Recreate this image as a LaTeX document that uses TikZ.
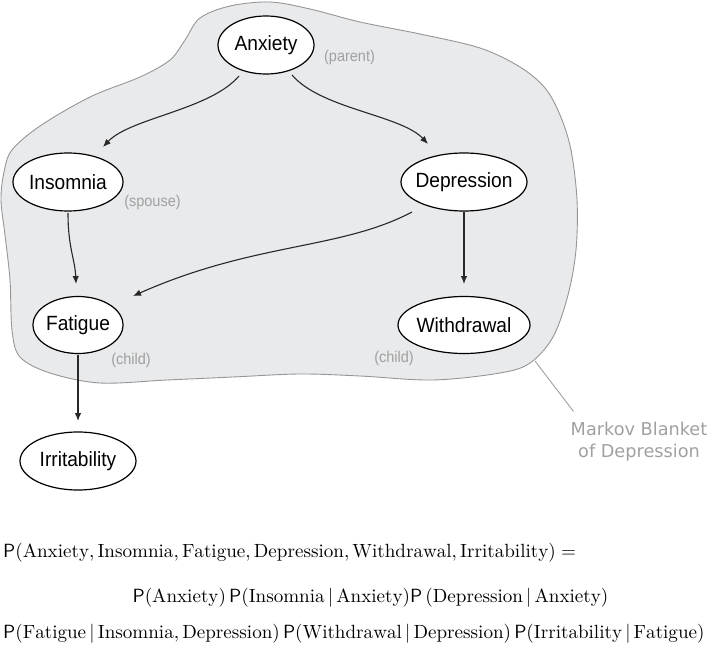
\documentclass[tikz,border=0pt]{standalone}
\usepackage{graphicx}
\usepackage{fontspec}
\newfontfamily\nodefont[FakeStretch=0.93]{Liberation Sans}
\newfontfamily\rolefont[FakeStretch=0.93]{Liberation Sans}
\newfontfamily\mbfont{DejaVu Sans}
\usetikzlibrary{shapes.geometric,arrows.meta,calc}
\definecolor{blobfill}{RGB}{233,234,236}
\definecolor{blobline}{RGB}{150,150,150}
\definecolor{lbl}{RGB}{160,160,160}
\definecolor{arrcol}{RGB}{40,40,40}
\newcommand\nbox[1]{\makebox[0pt]{#1}}
\newcommand\given{\,|\,}
\newcommand\fscale[1]{\scalebox{1.916}{#1}}
\begin{document}
\begin{tikzpicture}[x=1bp,y=-1bp,
  var/.style={ellipse, draw=black, fill=white, line width=1.2bp, inner sep=0pt, outer sep=0pt,
    font=\nodefont\fontsize{20.6bp}{22bp}\selectfont},
  role/.style={text=lbl, inner sep=0pt, font=\rolefont\fontsize{15.6bp}{17bp}\selectfont},
  edge/.style={draw=arrcol, line width=1.1bp, -{Latex[length=8bp,width=6.5bp]}},
  formula/.style={inner sep=0pt, font=\fontsize{10pt}{12pt}\selectfont},
  mbl/.style={text=lbl, inner sep=0pt, align=center, font=\mbfont\fontsize{17.7bp}{22bp}\selectfont}]
\useasboundingbox (0,0) rectangle (709,652);

% Markov blanket region
\path[fill=blobfill, draw=blobline, line width=0.9bp]
  plot[smooth cycle, tension=0.55] coordinates {
  (1,200) (4,172) (12,150) (40,126) (90,97) (140,77) (170,60) (185,40) (200,18)
  (230,6) (270,2) (310,9) (360,22) (420,34) (480,48) (520,67) (545,88) (560,115)
  (571,150) (577,200) (576,250) (568,295) (553,337) (530,363) (500,373) (433,380)
  (360,376) (300,374) (233,377) (167,380) (100,383) (50,373) (20,357) (12,330)
  (10,280) (5,235)};

% variables
\node[var, minimum width=96bp, minimum height=58bp] (anx) at (266,45) {\nbox{Anxiety}};
\node[var, minimum width=110bp, minimum height=58bp] (ins) at (68,182) {\nbox{Insomnia}};
\node[var, minimum width=126bp, minimum height=58bp] (dep) at (464,182) {\nbox{Depression}};
\node[var, minimum width=90bp, minimum height=57bp] (fat) at (78,325) {\nbox{Fatigue}};
\node[var, minimum width=132bp, minimum height=57bp] (wd) at (464,325) {\nbox{Withdrawal}};
\node[var, minimum width=116bp, minimum height=58bp] (irr) at (78,461) {\nbox{Irritability}};

% role labels
\node[role] (lpar) at (349.5,57) {(parent)};
\node[role] (lspo) at (152.5,202) {(spouse)};
\node[role] (lch1) at (131,360) {(child)};
\node[role] (lch2) at (394,358) {(child)};

% edges
\draw[edge] ($(anx)+(-27,31)$) .. controls +(-29,34) and +(27,-29) .. ($(ins)+(35,-35)$);
\draw[edge] ($(anx)+(26,30)$) .. controls +(29,34) and +(-27,-29) .. ($(dep)+(-36,-38)$);
\draw[edge] ($(ins)+(0,31)$) .. controls +(0,35) and +(-1,-25) .. ($(fat)+(-2,-41)$);
\draw[edge] ($(dep)+(-52,30)$) .. controls +(-72,38) and +(122,-54) .. ($(fat)+(55,-29)$);
\draw[edge] ($(dep)+(0,30)$) -- ($(wd)+(0,-41)$);
\draw[edge] ($(fat)+(0,30)$) -- ($(irr)+(0,-40)$);

% Markov blanket label
\node[mbl, anchor=north] (mb) at (639,421.5) {Markov Blanket\\of Depression};
\coordinate (mbs) at (535,361);
\draw[draw=lbl, line width=0.9bp] (mbs) -- ($(mb.north west)+(3,-10)$);

% formula
\node[formula, anchor=base west] (f1) at (3,557)
  {\fscale{$\mathsf{P}(\mathrm{Anxiety},\mathrm{Insomnia},\mathrm{Fatigue},\mathrm{Depression},\mathrm{Withdrawal},\mathrm{Irritability}) =$}};
\node[formula, anchor=base] (f2) at (370.5,602)
  {\fscale{$\mathsf{P}(\mathrm{Anxiety})\,\mathsf{P}(\mathrm{Insomnia}\given\mathrm{Anxiety})\mathsf{P}\,(\mathrm{Depression}\given\mathrm{Anxiety})$}};
\node[formula, anchor=base west] (f3) at (3,638)
  {\fscale{$\mathsf{P}(\mathrm{Fatigue}\given\mathrm{Insomnia},\mathrm{Depression})\,\mathsf{P}(\mathrm{Withdrawal}\given\mathrm{Depression})\,\mathsf{P}(\mathrm{Irritability}\given\mathrm{Fatigue})$}};
\end{tikzpicture}
\end{document}
